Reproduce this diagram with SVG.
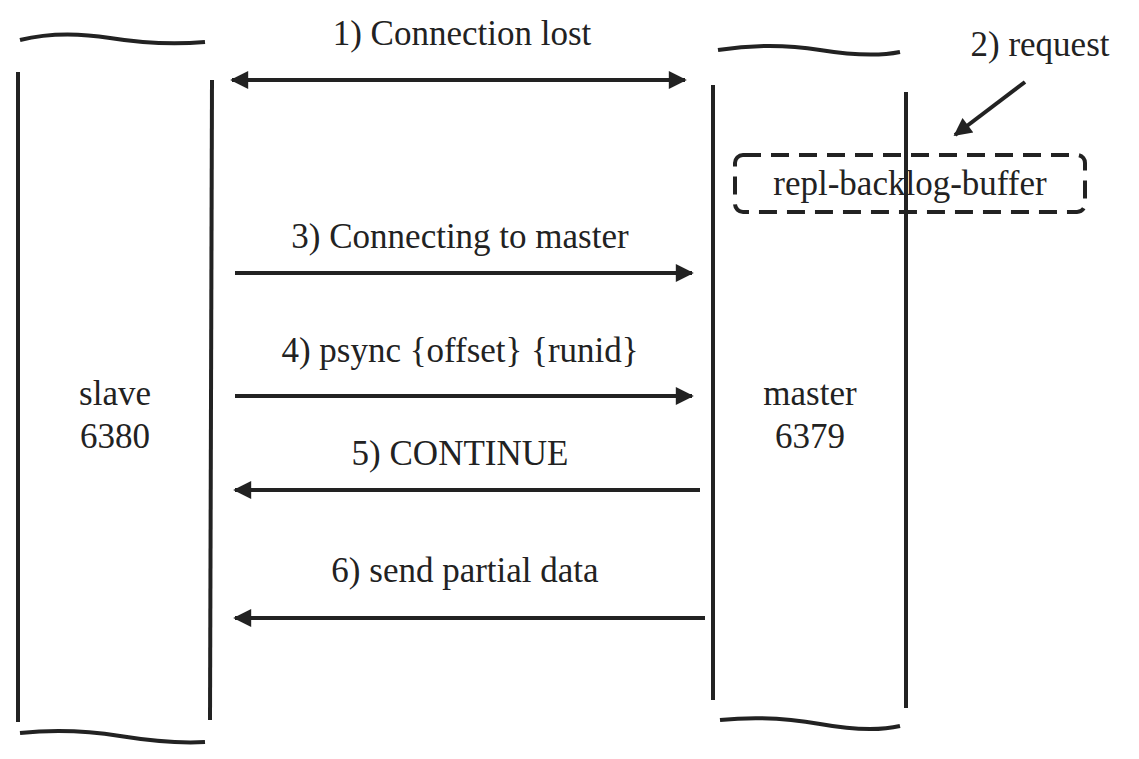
<svg xmlns="http://www.w3.org/2000/svg" width="1139" height="759" viewBox="0 0 1139 759" font-family="'Liberation Serif','DejaVu Serif',serif">
<defs>
<marker id="big" viewBox="0 0 10 10" refX="9" refY="5" markerWidth="26" markerHeight="18" orient="auto-start-reverse" markerUnits="userSpaceOnUse">
<path d="M0,0 L10,5 L0,10 z" fill="#222"/>
</marker>
</defs>
<style>
text{font-family:'Liberation Serif','DejaVu Serif',serif;font-size:35px;fill:#222}
.l{stroke:#222;stroke-width:4;fill:none}
.a{stroke:#222;stroke-width:4;fill:none;marker-end:url(#big)}
</style>
<rect width="1139" height="759" fill="#fff"/>
<g id="slave">
<path class="l" d="M20,40 Q60,30 110,38 T205,42"/>
<path class="l" d="M18,72 L18,722"/>
<path class="l" d="M212,80 L210,720"/>
<path class="l" d="M20,733 Q70,728 120,736 T205,742"/>
<text x="115" y="405" text-anchor="middle">slave</text>
<text x="115" y="448" text-anchor="middle">6380</text>
</g>
<g id="master">
<path class="l" d="M718,50 Q770,42 820,50 T900,52"/>
<path class="l" d="M713,85 L713,700"/>
<path class="l" d="M906,92 L906,708"/>
<path class="l" d="M720,720 Q770,715 820,724 T900,726"/>
<text x="810" y="405" text-anchor="middle">master</text>
<text x="810" y="448" text-anchor="middle">6379</text>
</g>
<g id="buffer">
<rect x="735" y="155" width="350" height="57" rx="8" fill="none" stroke="#222" stroke-width="4" stroke-dasharray="18,10"/>
<text x="910" y="195" text-anchor="middle">repl-backlog-buffer</text>
</g>
<g id="connectors">
<path class="a" d="M232,80 L685,80" style="marker-start:url(#big)"/>
<path class="a" d="M1025,82 L955,135"/>
<path class="a" d="M235,273 L692,273"/>
<path class="a" d="M235,396 L692,396"/>
<path class="a" d="M700,490 L235,490"/>
<path class="a" d="M705,618 L235,618"/>
</g>
<g id="labels">
<text x="462" y="45" text-anchor="middle">1) Connection lost</text>
<text x="1040" y="56" text-anchor="middle">2) request</text>
<text x="460" y="248" text-anchor="middle">3) Connecting to master</text>
<text x="460" y="362" text-anchor="middle">4) psync {offset} {runid}</text>
<text x="460" y="465" text-anchor="middle">5) CONTINUE</text>
<text x="465" y="582" text-anchor="middle">6) send partial data</text>
</g>
</svg>
